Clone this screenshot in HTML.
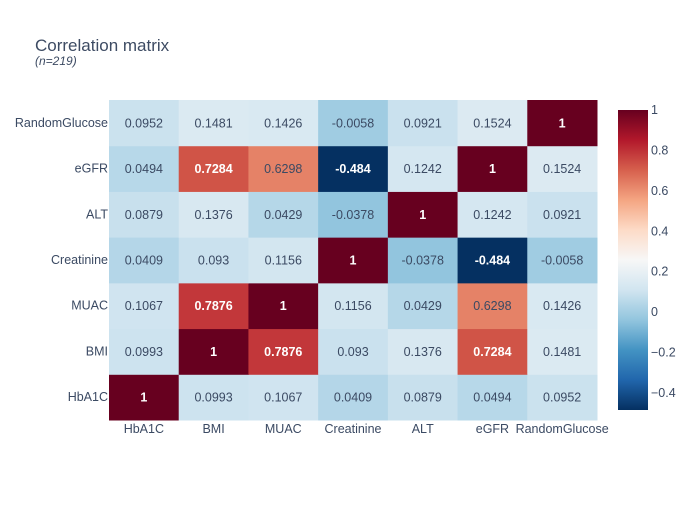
<!DOCTYPE html>
<html><head><meta charset="utf-8"><style>
body{margin:0;background:#fff;}
svg{font-family:"Liberation Sans",Arial,sans-serif;}
</style></head><body>
<svg id="chart" width="700" height="500">
<text x="35" y="51" font-size="17" fill="#3d4b63">Correlation matrix</text>
<text x="35" y="65" font-size="12" font-style="italic" fill="#3d4b63">(n=219)</text>
</svg>
<script>
const labels = ["HbA1C","BMI","MUAC","Creatinine","ALT","eGFR","RandomGlucose"];
const row0 = [1,0.0993,0.1067,0.0409,0.0879,0.0494,0.0952];
const row1 = [0.0993,1,0.7876,0.093,0.1376,0.7284,0.1481];
const row2 = [0.1067,0.7876,1,0.1156,0.0429,0.6298,0.1426];
const row3 = [0.0409,0.093,0.1156,1,-0.0378,-0.484,-0.0058];
const row4 = [0.0879,0.1376,0.0429,-0.0378,1,0.1242,0.0921];
const row5 = [0.0494,0.7284,0.6298,-0.484,0.1242,1,0.1524];
const row6 = [0.0952,0.1481,0.1426,-0.0058,0.0921,0.1524,1];
const cbTicks = [1,0.8,0.6,0.4,0.2,0,-0.2,-0.4];
const zmin = -0.484, zmax = 1;

const NS="http://www.w3.org/2000/svg";
const svg=document.getElementById('chart');
const rows=[row0,row1,row2,row3,row4,row5,row6];
const L=109,R=597,T=100,B=420;
const cw=(R-L)/labels.length, ch=(B-T)/labels.length;
const xPos=i=>L+i*cw;
const yPos=j=>B-(j+1)*ch;
const stops=[[5,48,97],[33,102,172],[67,147,195],[146,197,222],[209,229,240],[247,247,247],[253,219,199],[244,165,130],[214,96,77],[178,24,43],[103,0,31]];
function color(v){let t=(v-zmin)/(zmax-zmin);t=Math.max(0,Math.min(1,t));const p=t*10;const i=Math.min(9,Math.floor(p));const f=p-i;const a=stops[i],b=stops[i+1];return `rgb(${a.map((c,k)=>Math.round(c+(b[k]-c)*f)).join(',')})`;}
function mk(tag,attrs){const e=document.createElementNS(NS,tag);for(const k in attrs)e.setAttribute(k,attrs[k]);svg.appendChild(e);return e;}
rows.forEach((r,j)=>{r.forEach((v,i)=>{
 const c=mk('rect',{x:xPos(i),y:yPos(j),width:cw+0.5,height:ch+0.5,fill:color(v)});
 
 
 const strong=Math.abs(v)>0.45&&v!==0.6298;
 const t=mk('text',{x:xPos(i)+cw/2,y:yPos(j)+ch/2+4.5,'text-anchor':'middle','font-size':12.5,fill:strong?'#fff':'#3b4a63','font-weight':strong?'bold':'normal'});
 t.textContent=String(v);
 
 
});});
labels.forEach((l,i)=>{
 const t=mk('text',{x:xPos(i)+cw/2,y:B+13,'text-anchor':'middle','font-size':12.5,fill:'#3b4a63'});
 t.textContent=l;
 
 
 const u=mk('text',{x:L-1,y:yPos(i)+ch/2+4,'text-anchor':'end','font-size':12.5,fill:'#3b4a63'});
 u.textContent=l;
 
 
});
const cx=618,cwid=30,cT=110,cB=410;
const cy=v=>cB-(v-zmin)/(zmax-zmin)*(cB-cT);
const defs=mk('defs',{});
const g=document.createElementNS(NS,'linearGradient');g.setAttribute('id','cbg');g.setAttribute('x1','0');g.setAttribute('y1','1');g.setAttribute('x2','0');g.setAttribute('y2','0');
stops.forEach((s,k)=>{const st=document.createElementNS(NS,'stop');st.setAttribute('offset',k/10);st.setAttribute('stop-color',`rgb(${s.join(',')})`);g.appendChild(st);});
defs.appendChild(g);
const cb=mk('rect',{x:cx,y:cT,width:cwid,height:cB-cT,fill:'url(#cbg)'});


cbTicks.forEach(v=>{
 const t=mk('text',{x:cx+cwid+3,y:cy(v)+4,'font-size':12.5,fill:'#3b4a63'});
 t.textContent=v<0?'\u2212'+Math.abs(v):String(v);
 
 
});
</script>
</body></html>
